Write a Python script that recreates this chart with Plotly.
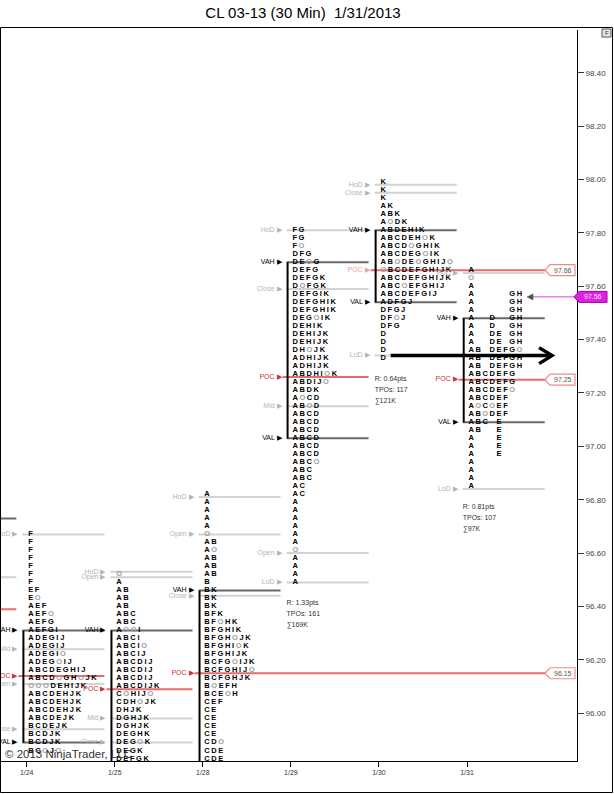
import plotly.graph_objects as go

# ---------------- data ----------------
TITLE = "CL 03-13 (30 Min)  1/31/2013"
DAY_LABELS = ["1/24", "1/25", "1/28", "1/29", "1/30", "1/31"]
DAY_POS = [0, 1, 2, 3, 4, 5]
ROW_STEP = 0.03
Y_TICKS = [96.00, 96.20, 96.40, 96.60, 96.80, 97.00, 97.20, 97.40,
           97.60, 97.80, 98.00, 98.20, 98.40]

# TPO rows, top to bottom ("O" = grey open/close marker)
P124_TOP = 96.67
P124_ROWS = ["F", "F", "F", "F", "F", "F", "F", "EF", "EO", "AEF", "AEFO", "AEFG",
             "AEFGI", "ADEGIJ", "ADEGIJ", "ADEGIO", "ADEGOIJ", "ABCDEGHIJ",
             "ABCDOGHOJK", "OOODEHIJK", "ABCDEHJK", "ABCDEHJK", "ABCDEHJK",
             "ABCDEJK", "BCDEJK", "BCDJK", "BCDJK", "BCOJO"]
P124_LEVELS = [("HoD", 96.67), ("VAH", 96.31), ("Mid", 96.24), ("POC", 96.14),
               ("Open", 96.11), ("Close", 95.94), ("VAL", 95.89)]

P125_TOP = 96.52
P125_ROWS = ["O", "A", "AB", "AB", "AB", "ABC", "ABC", "AOOI", "ABCI", "ABCIO",
             "ABCIJ", "ABCDIJ", "ABCDIJ", "ABCDIJ", "ABCDIJK", "COHIJO", "CDHOJK",
             "DHJK", "DGHJK", "DGHJK", "DEGHK", "DEGOK", "DEGK", "DEFGK"]
P125_LEVELS = [("HoD", 96.53), ("Open", 96.51), ("VAH", 96.31), ("POC", 96.09),
               ("Mid", 95.98), ("Close", 95.89)]

P128_TOP = 96.82
P128_ROWS = ["A", "A", "A", "A", "A", "O", "AB", "AO", "AB", "AB", "AB", "B",
             "BK", "BK", "BK", "BFK", "BFOHK", "BFGHIK", "BFGHOJK", "BFGHIOK",
             "BFGHIJK", "BCFGOIJK", "BCFGHIJO", "BCFGHJK", "BOEFH", "BCEOH",
             "CEF", "CE", "CE", "CE", "CE", "CDO", "CDE", "CDE"]
P128_LEVELS = [("HoD", 96.81), ("Open", 96.67), ("VAH", 96.46), ("Close", 96.44),
               ("POC", 96.15)]

P129_TOP = 97.81
P129_ROWS = ["FG", "FG", "FO", "DFG", "DEOG", "DEFG", "DEFGK", "DOFGK", "DEFGIK",
             "DEFGHIK", "DEFGHIK", "DEGOIK", "DEHIK", "DEHIJK", "DEHIJK", "DHOJK",
             "ADHIJK", "ADHIJK", "ABDHIOK", "ABDIJO", "ABDK", "AOCD", "ABOD",
             "ABCD", "ABCD", "ABCD", "ABCD", "ABCD", "ABCD", "ABCO", "ABC", "ABC",
             "AC", "AC", "A", "A", "A", "A", "A", "A", "O", "A", "A", "A", "A"]
P129_LEVELS = [("HoD", 97.81), ("VAH", 97.69), ("Close", 97.59), ("POC", 97.26),
               ("Mid", 97.15), ("VAL", 97.03), ("Open", 96.60), ("LoD", 96.49)]
P129_STATS = ["R: 1.33pts", "TPOs: 161", "∑169K"]

P130_TOP = 97.99
P130_ROWS = ["K", "K", "K", "AK", "ABK", "AODK", "ABDEHIK", "ABCDEHOK",
             "ABCDOGHIK", "ABCDEGOIK", "ABODEOGHIJO", "OBCDEFGHIJK", "ABCDEFGHIJK",
             "ABCOEFGHIJ", "ABCDEFGIJ", "ADFGJ", "DFGJ", "DFOJ", "DFG",
             "D", "D", "D", "D"]
P130_LEVELS = [("HoD", 97.98), ("Close", 97.95), ("VAH", 97.81), ("POC", 97.66),
               ("VAL", 97.54), ("LoD", 97.34)]
P130_STATS = ["R: 0.64pts", "TPOs: 117", "∑121K"]

P131_TOP = 97.66
P131_ROWS = ["A", "O", "A", "A     GH", "A     GH", "A     GH", "A  D  GH",
             "A  D  GH", "A  DE GH", "A  DE GH", "AB DEFGO", "AB DEFGH", "AB DEFGH",
             "ABCDEFG", "ABCDEFG", "ABCDEFO", "ABCDEF", "AOCOEF", "ABODEF",
             "ABC E", "AB  E", "A   E", "A   E", "A   E", "A", "A", "A", "A"]
P131_LEVELS = [("HoD", 97.65), ("VAH", 97.48), ("POC", 97.25), ("VAL", 97.09),
               ("LoD", 96.84)]
P131_STATS = ["R: 0.81pts", "TPOs: 107", "∑97K"]

P123_LEVELS = [("VAH", 96.73), ("Close", 96.51), ("POC", 96.39)]

TAG_PRICES = [97.66, 97.25, 96.15]
LAST_PRICE = 97.56
COPYRIGHT = "© 2013 NinjaTrader, LLC"

PROFILES = [
    dict(day=-1, top=None, rows=[], fixed=False, levels=P123_LEVELS, naked=False, stats=None),
    dict(day=0, top=P124_TOP, rows=P124_ROWS, fixed=False, levels=P124_LEVELS, naked=False, stats=None),
    dict(day=1, top=P125_TOP, rows=P125_ROWS, fixed=False, levels=P125_LEVELS, naked=False, stats=None),
    dict(day=2, top=P128_TOP, rows=P128_ROWS, fixed=False, levels=P128_LEVELS, naked=True, stats=None),
    dict(day=3, top=P129_TOP, rows=P129_ROWS, fixed=False, levels=P129_LEVELS, naked=False, stats=P129_STATS),
    dict(day=4, top=P130_TOP, rows=P130_ROWS, fixed=False, levels=P130_LEVELS, naked=True, stats=P130_STATS, poc_faded=True),
    dict(day=5, top=P131_TOP, rows=P131_ROWS, fixed=True, levels=P131_LEVELS, naked=True, stats=P131_STATS),
]

# ---------------- layout geometry ----------------
FIG_W, FIG_H = 614, 794
ML, MR, MT, MB = 1, 37, 30, 33
PW = FIG_W - ML - MR
PH = FIG_H - MT - MB
PX_PER_DAY = 88.06
FIRST_TICK_PX = 26.7
X0 = -(FIRST_TICK_PX - ML) / PX_PER_DAY
X1 = X0 + PW / PX_PER_DAY
PX_PER_PT = 266.9
Y1 = 98.56
Y0 = Y1 - PH / PX_PER_PT

XD_OFF = 1.7          # letter start relative to day tick (px)
FS = 7.0              # TPO layout font size (advance widths)
TEXT_SIZE = 7.5       # TPO rendered font size
LABEL_OFF = 11        # label anchor left of letter start (px)
FONT = "Liberation Sans, Arial, sans-serif"


def dx(px):
    return px / PX_PER_DAY


def dy(px):
    return px / PX_PER_PT


def data_x(px):
    return X0 + (px - ML) / PX_PER_DAY


def paper_x(px):
    return (px - ML) / PW


def paper_y_price(p):
    return (p - Y0) / (Y1 - Y0)


def paper_y_px(ypx):
    return (MT + PH - ypx) / PH


GLYPH_W = {'A': 722, 'B': 722, 'C': 722, 'D': 722, 'E': 667, 'F': 611, 'G': 778,
           'H': 722, 'I': 278, 'J': 556, 'K': 722, 'O': 778}
GAP = 278 * FS / 1000.0


def packed_centers(row):
    out, x = [], 0.0
    for c in row:
        w = GLYPH_W.get(c, 722) * FS / 1000.0
        out.append(x + w / 2)
        x += w + GAP
    return out


TEMPLATE_CENTERS = packed_centers("ABCDEFGHIJK")

LABEL_COLOR = {"HoD": "#b4b4b4", "Close": "#b4b4b4", "Mid": "#b4b4b4", "Open": "#b4b4b4",
               "LoD": "#b4b4b4", "VAH": "#000000", "VAL": "#000000", "POC": "#d03030"}
LINE_COLOR = {"HoD": "#d2d2d2", "Close": "#d2d2d2", "Mid": "#d2d2d2", "Open": "#d2d2d2",
              "LoD": "#d2d2d2", "VAH": "#686868", "VAL": "#686868", "POC": "#e86a6a"}

TAG_LEFT_PX = 546

# ---------------- build ----------------
lx, ly, lt, lc = [], [], [], []        # letters
bx, by, bt, bc = [], [], [], []        # level labels
sx, sy, st = [], [], []                # stats
shapes = []

for prof in PROFILES:
    d = prof["day"]
    xd = d + dx(XD_OFF)
    for i, row in enumerate(prof["rows"]):
        price = prof["top"] - i * ROW_STEP
        centers = TEMPLATE_CENTERS if prof["fixed"] else packed_centers(row)
        for k, c in enumerate(row):
            if c == " ":
                continue
            lx.append(xd + dx(centers[k]))
            ly.append(price)
            lt.append(c)
            lc.append("#a0a0a0" if c == "O" else "#000000")
    lev = dict(prof["levels"])
    for name, price in prof["levels"]:
        col = LABEL_COLOR[name]
        if name == "POC" and prof.get("poc_faded"):
            col = "#e3a3a3"
        bx.append(xd - dx(LABEL_OFF))
        by.append(price)
        bt.append(name + " ▶")
        bc.append(col)
        x_start = xd - dx(10 if name == "POC" else 6)
        if name == "POC" and prof["naked"]:
            x_end = data_x(TAG_LEFT_PX)
        else:
            x_end = xd + dx(76)
        shapes.append(dict(type="line", xref="x", yref="y", x0=x_start, x1=x_end,
                           y0=price, y1=price, layer="below",
                           line=dict(color=LINE_COLOR[name], width=2)))
    if prof["rows"] and "VAH" in lev:
        y_bot = lev.get("VAL", Y0 - 0.05)
        shapes.append(dict(type="line", xref="x", yref="y", x0=xd - dx(5), x1=xd - dx(5),
                           y0=lev["VAH"], y1=y_bot, layer="below",
                           line=dict(color="#000000", width=2)))
    if prof["stats"]:
        low = prof["top"] - (len(prof["rows"]) - 1) * ROW_STEP
        for k, s in enumerate(prof["stats"]):
            sx.append(xd - dx(6))
            sy.append(low - dy(21 + 11 * k))
            st.append(s)

fig = go.Figure()
fig.add_trace(go.Scatter(x=lx, y=ly, text=lt, mode="text", textposition="middle center",
                         textfont=dict(family=FONT, size=TEXT_SIZE, color=lc, weight="bold"),
                         hoverinfo="skip", showlegend=False))
fig.add_trace(go.Scatter(x=bx, y=by, text=bt, mode="text", textposition="middle left",
                         textfont=dict(family=FONT, size=7, color=bc),
                         hoverinfo="skip", showlegend=False))
fig.add_trace(go.Scatter(x=sx, y=sy, text=st, mode="text", textposition="middle right",
                         textfont=dict(family=FONT, size=7, color="#333333"),
                         hoverinfo="skip", showlegend=False))

# big arrow at the 1/30 low
arrow_p = dict(P130_LEVELS)["LoD"]
ax_start = 4 + dx(XD_OFF + 10)
ax_end = 6.0 - dx(3)
shapes.append(dict(type="line", xref="x", yref="y", x0=ax_start, x1=ax_end,
                   y0=arrow_p, y1=arrow_p, layer="above",
                   line=dict(color="#000000", width=3.5)))
shapes.append(dict(type="path", xref="x", yref="y", layer="above",
                   path=f"M {ax_end - dx(13)},{arrow_p + dy(8)} L {ax_end},{arrow_p} "
                        f"L {ax_end - dx(13)},{arrow_p - dy(8)}",
                   line=dict(color="#000000", width=3.5)))

annotations = []
# naked POC tags
for p in TAG_PRICES:
    yc = paper_y_price(p)
    h = 5.5 / PH
    shapes.append(dict(type="path", xref="paper", yref="paper", layer="above",
                       path=f"M {paper_x(545)},{yc} L {paper_x(550)},{yc + h} L {paper_x(575)},{yc + h} "
                            f"L {paper_x(575)},{yc - h} L {paper_x(550)},{yc - h} Z",
                       fillcolor="#ffffff", line=dict(color="#f08a8a", width=1.2)))
    annotations.append(dict(xref="paper", yref="paper", x=paper_x(562.5), y=yc,
                            text=f"{p:.2f}", showarrow=False, xanchor="center", yanchor="middle",
                            font=dict(family=FONT, size=7, color="#555555")))

# last price marker
yl = paper_y_price(LAST_PRICE)
shapes.append(dict(type="line", xref="x", yref="y", x0=data_x(532), x1=data_x(577),
                   y0=LAST_PRICE, y1=LAST_PRICE, layer="above",
                   line=dict(color="#e040e0", width=1)))
shapes.append(dict(type="path", xref="x", yref="y", layer="above",
                   path=f"M {data_x(527)},{LAST_PRICE} L {data_x(533)},{LAST_PRICE + dy(3)} "
                        f"L {data_x(533)},{LAST_PRICE - dy(3)} Z",
                   fillcolor="#505050", line=dict(color="#505050", width=0.5)))
h = 5.5 / PH
shapes.append(dict(type="path", xref="paper", yref="paper", layer="above",
                   path=f"M {paper_x(574)},{yl} L {paper_x(579)},{yl + h} L {paper_x(607)},{yl + h} "
                        f"L {paper_x(607)},{yl - h} L {paper_x(579)},{yl - h} Z",
                   fillcolor="#e21ee2", line=dict(color="#a000a0", width=1)))
annotations.append(dict(xref="paper", yref="paper", x=paper_x(593), y=yl,
                        text=f"{LAST_PRICE:.2f}", showarrow=False, xanchor="center", yanchor="middle",
                        font=dict(family=FONT, size=7, color="#ffe6ff")))

# outer frame
shapes.append(dict(type="rect", xref="paper", yref="paper", layer="above",
                   x0=paper_x(0.5), x1=paper_x(612.5), y0=paper_y_px(792.5), y1=paper_y_px(27.5),
                   line=dict(color="#000000", width=1)))
# small "F" box
shapes.append(dict(type="rect", xref="paper", yref="paper", layer="above",
                   x0=paper_x(602), x1=paper_x(611), y0=paper_y_px(37), y1=paper_y_px(29),
                   fillcolor="#e6e6e6", line=dict(color="#555555", width=1)))
annotations.append(dict(xref="paper", yref="paper", x=paper_x(606.5), y=paper_y_px(33),
                        text="F", showarrow=False, xanchor="center", yanchor="middle",
                        font=dict(family=FONT, size=6, color="#333333")))
# copyright
annotations.append(dict(xref="paper", yref="paper", x=paper_x(3), y=paper_y_px(754),
                        text=COPYRIGHT, showarrow=False, xanchor="left", yanchor="middle",
                        font=dict(family=FONT, size=11.5, color="#333333")))

fig.update_layout(
    width=FIG_W, height=FIG_H,
    margin=dict(l=ML, r=MR, t=MT, b=MB, pad=0),
    paper_bgcolor="#ffffff", plot_bgcolor="#ffffff",
    title=dict(text=TITLE, x=303 / FIG_W, xref="container", xanchor="center",
               y=1 - 13 / FIG_H, yref="container", yanchor="middle",
               font=dict(family=FONT, size=15, color="#000000")),
    xaxis=dict(range=[X0, X1], tickvals=DAY_POS, ticktext=DAY_LABELS,
               showgrid=False, zeroline=False, showline=True, linecolor="#000000", linewidth=1,
               ticks="outside", ticklen=5, tickcolor="#000000",
               tickfont=dict(family=FONT, size=7, color="#333333"), fixedrange=True),
    yaxis=dict(range=[Y0, Y1], side="right", tickvals=Y_TICKS,
               ticktext=[f"{v:.2f}" for v in Y_TICKS],
               showgrid=False, zeroline=False, showline=True, linecolor="#000000", linewidth=1,
               ticks="outside", ticklen=6, tickcolor="#333333",
               tickfont=dict(family=FONT, size=8, color="#444444"), fixedrange=True),
    shapes=shapes, annotations=annotations, showlegend=False,
)

fig.write_html("out.html", config={"displayModeBar": False},
               post_script="document.body.style.margin='0';document.body.style.padding='0';")
